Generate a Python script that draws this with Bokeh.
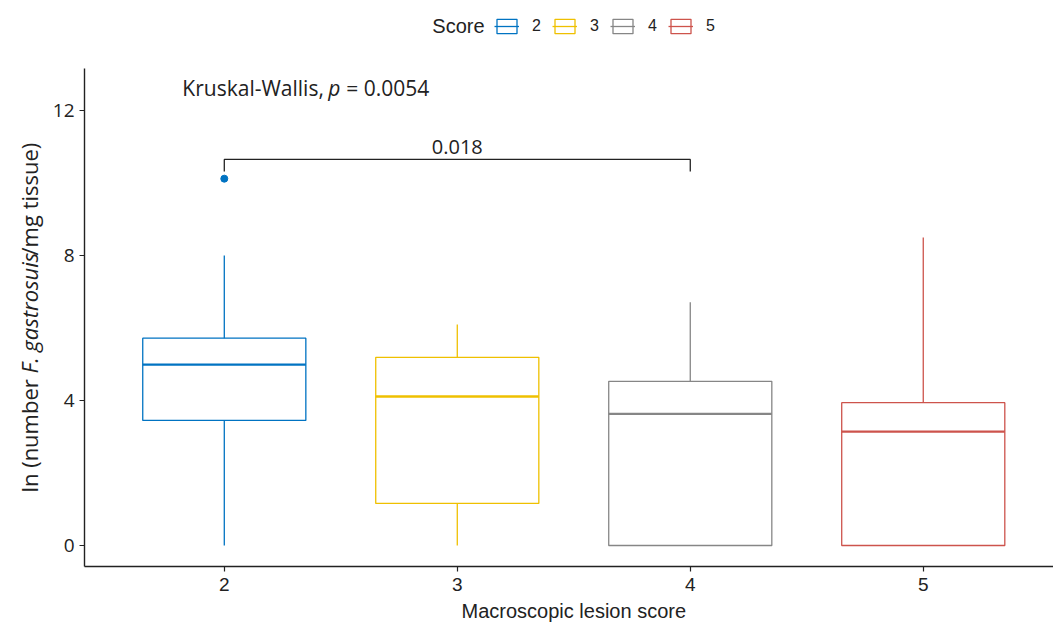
from math import pi
from bokeh.plotting import figure
from bokeh.layouts import column, row
from bokeh.models import (Range1d, FixedTicker, ColumnDataSource, Legend,
                          LegendItem, Label)
from bokeh.core.properties import value
from bokeh.embed import file_html
from bokeh.resources import INLINE

# ---------------- data ----------------
categories = ["2", "3", "4", "5"]
colors = ["#0073C2", "#EFC000", "#868686", "#CD534C"]
lower = [0.0, 0.0, 0.0, 0.0]
q1 = [3.45, 1.16, 0.0, 0.0]
median = [4.99, 4.11, 3.63, 3.14]
q3 = [5.72, 5.19, 4.53, 3.94]
upper = [8.0, 6.10, 6.71, 8.50]
outlier_cat = ["2"]
outlier_val = [10.12]
y_ticks = [0, 4, 8, 12]
compare_groups = ("2", "4")
compare_label = "0.018"
compare_y = 10.65
kw_p = "0.0054"

# ---------------- style ----------------
CAL = "Open Sans"
ARI = "Liberation Sans"
DARK = "#222222"
half = 0.35
LW = 1.3

def bare(fig):
    fig.outline_line_color = None
    fig.xgrid.visible = False
    fig.ygrid.visible = False
    return fig

xs = [int(c) for c in categories]
src = ColumnDataSource(dict(
    x=xs, left=[x - half for x in xs], right=[x + half for x in xs],
    lower=lower, q1=q1, median=median, q3=q3, upper=upper, color=colors))

# ---------------- main plot ----------------
p = bare(figure(width=1007, height=549, output_backend="svg", toolbar_location=None,
                x_range=Range1d(1.4, 5.559), y_range=Range1d(-0.58, 13.16),
                min_border_left=38, min_border_right=0, min_border_top=18,
                min_border_bottom=33))

for ax in (p.xaxis[0], p.yaxis[0]):
    ax.axis_line_color = DARK
    ax.axis_line_width = 1.4
    ax.major_tick_line_color = DARK
    ax.major_tick_line_width = 1.2
    ax.major_tick_out = 5
    ax.major_tick_in = 0
    ax.minor_tick_line_color = None
    ax.major_label_text_color = DARK

p.xaxis.ticker = FixedTicker(ticks=xs)
p.xaxis.major_label_overrides = {x: c for x, c in zip(xs, categories)}
p.xaxis.major_label_text_font = ARI
p.xaxis.major_label_text_font_size = "19px"
p.xaxis.major_label_standoff = 6

p.yaxis.ticker = FixedTicker(ticks=y_ticks)
p.yaxis.major_label_text_font = CAL
p.yaxis.major_label_text_font_size = "19px"
p.yaxis.major_label_standoff = 5

box = p.quad(left="left", right="right", bottom="q1", top="q3", source=src,
             fill_color=None, line_color="color", line_width=LW)
med = p.segment(x0="left", y0="median", x1="right", y1="median", source=src,
                line_color="color", line_width=2.3)
p.segment(x0="x", y0="q3", x1="x", y1="upper", source=src,
          line_color="color", line_width=LW)
p.segment(x0="x", y0="lower", x1="x", y1="q1", source=src,
          line_color="color", line_width=LW)
p.scatter(x=[int(c) for c in outlier_cat], y=outlier_val, size=7,
          color=[colors[categories.index(c)] for c in outlier_cat])

# comparison bracket
xa, xb = int(compare_groups[0]), int(compare_groups[1])
tip = 0.33
p.line(x=[xa, xa, xb, xb], y=[compare_y - tip, compare_y, compare_y, compare_y - tip],
       line_color=DARK, line_width=LW)
p.text(x=[(xa + xb) / 2], y=[compare_y], text=[compare_label],
       text_align="center", text_baseline="bottom", y_offset=-5,
       text_font=value(CAL), text_font_size="20px", text_color=DARK)

# Kruskal-Wallis label (mixed italic)
kw_x, kw_y = 1.82, 12.61
kw_parts = [("Kruskal-Wallis,", "normal", 0), ("p", "italic", 146),
            ("= " + kw_p, "normal", 164)]
for t, st, off in kw_parts:
    p.text(x=[kw_x], y=[kw_y], text=[t], x_offset=off, text_align="left",
           text_baseline="middle", text_font=value(CAL), text_font_style=st,
           text_font_size="21px", text_color=DARK)

# ---------------- y axis title strip ----------------
lab = bare(figure(width=46, height=549, output_backend="svg", toolbar_location=None,
                  x_range=Range1d(0, 1), y_range=p.y_range,
                  x_axis_type=None, y_axis_type=None,
                  min_border_left=0, min_border_right=0, min_border_top=18,
                  min_border_bottom=33))
ymid = (p.y_range.start + p.y_range.end) / 2
FS = 22
w1, w2, w3 = 5.42 * FS, 5.36 * FS, 5.14 * FS
tot = w1 + w2 + w3
ylab_parts = [("ln (number", "normal", tot / 2),
              ("F. gastrosuis", "italic", tot / 2 - w1),
              ("/mg tissue)", "normal", tot / 2 - w1 - w2)]
for t, st, off in ylab_parts:
    lab.text(x=[0.61], y=[ymid], text=[t], y_offset=off, angle=pi / 2,
             text_align="left", text_baseline="middle", text_font=value(CAL),
             text_font_style=st, text_font_size=f"{FS}px", text_color=DARK)

# ---------------- legend strip ----------------
top = bare(figure(width=1053, height=50, output_backend="svg", toolbar_location=None,
                  x_range=p.x_range, y_range=Range1d(0, 50),
                  x_axis_type=None, y_axis_type=None, min_border_left=84,
                  min_border_right=0, min_border_top=0, min_border_bottom=0))
leg_src = ColumnDataSource(dict(color=colors))
lb = top.quad(left=-20, right=-10, bottom=-20, top=-10, source=leg_src,
              fill_color=None, line_color="color", line_width=LW)
lm = top.segment(x0=-20, y0=-15, x1=-10, y1=-15, source=leg_src,
                 line_color="color", line_width=LW)
items = [LegendItem(label=c, renderers=[lb, lm], index=i)
         for i, c in enumerate(categories)]
legend = Legend(items=items, orientation="horizontal", location=(410, 15),
                glyph_width=25, glyph_height=18, label_standoff=13, spacing=10,
                label_width=10, padding=0, margin=0, border_line_color=None,
                background_fill_alpha=0, label_text_font=ARI,
                label_text_font_size="16px", label_text_color=DARK)
top.add_layout(legend)
top.add_layout(Label(x=2.893, y=25, text="Score", text_align="left",
                     text_baseline="middle", text_font=ARI,
                     text_font_size="20px", text_color=DARK))

# ---------------- x axis title strip ----------------
bot = bare(figure(width=1053, height=23, output_backend="svg", toolbar_location=None,
                  x_range=p.x_range, y_range=Range1d(0, 1),
                  x_axis_type=None, y_axis_type=None,
                  min_border_left=84, min_border_right=0, min_border_top=0,
                  min_border_bottom=0))
bot.text(x=[(xs[0] + xs[-1]) / 2], y=[0.5], text=["Macroscopic lesion score"],
         text_align="center", text_baseline="middle", text_font=value(ARI),
         text_font_size="20px", text_color=DARK)

layout = column(top, row(lab, p), bot)
open("out.html", "w").write(file_html(layout, INLINE))
